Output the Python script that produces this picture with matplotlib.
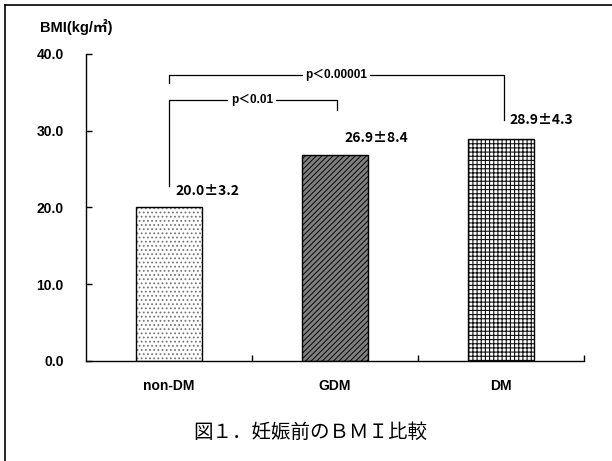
import matplotlib
matplotlib.use('Agg')
import matplotlib.pyplot as plt
from matplotlib.lines import Line2D

plt.rcParams['font.family'] = ['Liberation Sans', 'Noto Sans CJK JP', 'DejaVu Sans']
plt.rcParams['font.weight'] = 'bold'
plt.rcParams['hatch.linewidth'] = 0.8
cjk = ['Noto Sans CJK JP', 'DejaVu Sans']

groups = ['non-DM', 'GDM', 'DM']
bmi_mean = [20.0, 26.9, 28.9]
bmi_sd = [3.2, 8.4, 4.3]
y_ticks = [0, 10, 20, 30, 40]
comparisons = [('p＜0.01', 0, 1), ('p＜0.00001', 0, 2)]

fig = plt.figure(figsize=(6.12, 4.61), dpi=100)
ax = fig.add_axes([86 / 612, 1 - 361 / 461, 498 / 612, 307 / 461])

x = list(range(len(groups)))
hatches = ['....', '//////', '++++']
faces = ['white', '#808080', 'white']
hcolors = ['#777777', '#111111', '#111111']
for i in x:
    ax.bar(i, bmi_mean[i], width=0.4, color=faces[i], hatch=hatches[i],
           edgecolor=hcolors[i], linewidth=0)
    ax.bar(i, bmi_mean[i], width=0.4, fill=False, edgecolor='black', linewidth=1.0)

ax.set_xlim(-0.5, 2.5)
ax.set_ylim(0, 40)
ax.set_yticks(y_ticks)
ax.set_yticklabels([f'{v:.1f}' for v in y_ticks], fontsize=10, fontweight='bold')
ax.tick_params(axis='y', direction='in', length=4, pad=16, width=1)
ax.set_xticks(x)
ax.set_xticklabels(groups, fontsize=10, fontweight='bold')
ax.tick_params(axis='x', length=0, pad=13)
ax.set_xticks([0.5, 1.5, 2.5], minor=True)
ax.tick_params(axis='x', which='minor', direction='in', length=4, width=1)
for s in ['top', 'right']:
    ax.spines[s].set_visible(False)
ax.spines['left'].set_linewidth(1.0)
ax.spines['bottom'].set_linewidth(1.0)

# mean ± SD labels
label_y = [22.1, 29.0, 31.4]
label_dx = [0.04, 0.06, 0.05]
for i in x:
    ax.text(i + label_dx[i], label_y[i], f'{bmi_mean[i]:.1f}±{bmi_sd[i]:.1f}',
            fontsize=10, fontweight='bold', ha='left', va='center', family=cjk)

# significance brackets
bracket_y = [34.0, 37.3]
left_drop = [22.8, 36.2]
right_drop = [32.7, 31.4]
for (txt, a, b), by, ld, rd in zip(comparisons, bracket_y, left_drop, right_drop):
    xb = b + (0.01 if b == 1 else 0.02)
    ax.plot([a, a, xb, xb], [ld, by, by, rd], color='black', lw=0.9, clip_on=False)
    ax.text((a + xb) / 2 if b == 2 else 0.5, by, txt, fontsize=8.5, fontweight='bold',
            ha='center', va='center',
            bbox=dict(facecolor='white', edgecolor='none', pad=2))

fig.text(40 / 612, 1 - 27 / 461, 'BMI(kg/㎡)', fontsize=10.5, fontweight='bold',
         ha='left', va='center')
fig.text(310 / 612, 1 - 432 / 461, '図１．妊娠前のＢＭＩ比較', fontsize=14,
         fontweight='normal', ha='center', va='center', family=cjk)

# outer frame (left and top edges)
fig.add_artist(Line2D([5 / 612, 5 / 612], [0, 1 - 5 / 461], color='black', lw=1.2))
fig.add_artist(Line2D([5 / 612, 1], [1 - 5 / 461, 1 - 5 / 461], color='black', lw=1.2))

fig.savefig('out.png', dpi=100)
